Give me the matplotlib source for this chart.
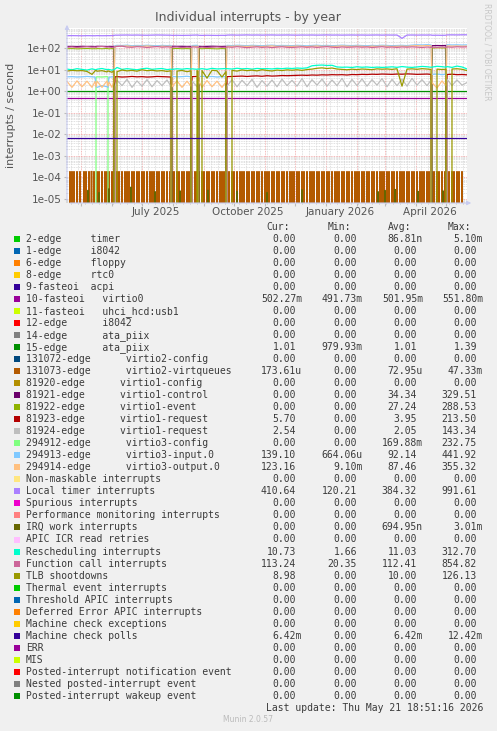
import datetime as dt
import matplotlib
matplotlib.use('Agg')
import matplotlib.pyplot as plt
import matplotlib.dates as mdates
from matplotlib.patches import Rectangle
from matplotlib.ticker import LogLocator, NullFormatter, FuncFormatter

W, H = 497, 731
start = dt.datetime(2025, 4, 16, 18, 51, 16)
end = dt.datetime(2026, 5, 21, 18, 51, 16)

# sample days (offset from start)
days = [
    0, 5, 10, 15, 20, 25,
    28, 29, 30, 35, 40, 41,
    42, 45, 47,
    48, 50, 55, 60, 65, 70, 75, 80, 85, 90, 95, 100, 104,
    105, 110, 115, 120, 124,
    125, 130, 131,
    132, 135, 140, 145, 150, 155, 159,
    160, 165, 170, 175, 180, 185, 190, 195, 200, 205, 210, 215, 220,
    225, 230, 235, 240, 245, 250, 255, 260, 265, 270, 275, 280, 285,
    290, 295, 300, 305, 310, 315, 320, 325, 330, 335, 340, 345, 350, 355, 360, 364,
    365, 370, 375, 379,
    380, 385, 390, 395, 400,
]

local_timer = [
    370, 375, 372, 368, 374, 371,
    369, 372, 375, 370, 373, 376,
    372, 378, 380,
    395, 392, 398, 401, 396, 400, 394, 390, 397, 402, 399, 395, 392,
    386, 389, 384, 388, 390,
    395, 400, 398,
    388, 384, 390, 386, 383, 388, 385,
    398, 402, 396, 400, 405, 399, 402, 397, 401, 404, 398, 400, 403,
    399, 395, 401, 398, 402, 396, 400, 404, 399, 401, 397, 400, 402,
    398, 401, 396, 400, 403, 397, 401, 399, 400, 280, 398, 402, 397, 401, 399, 403,
    390, 392, 388, 391,
    405, 408, 404, 410, 410,
]

func_call = [
    108, 112, 106, 110, 115, 109,
    111, 107, 113, 118, 109, 112,
    110, 106, 112,
    114, 118, 122, 110, 108, 115, 112, 106, 111, 117, 109, 113, 110,
    108, 112, 105, 110, 107,
    113, 109, 111,
    106, 110, 104, 108, 112, 107, 109,
    112, 108, 115, 110, 104, 109, 113, 107, 111, 105, 110, 114, 108,
    106, 110, 113, 108, 112, 107, 111, 115, 109, 106, 112, 108, 110,
    113, 109, 112, 106, 110, 115, 108, 111, 107, 112, 109, 113, 110, 106, 111, 108,
    110, 107, 112, 108,
    112, 109, 114, 111, 113,
]

virtio3_input = [
    4.6, 4.7, 4.5, 4.6, 4.8, 4.6,
    4.5, 1.7, 1.5, 1.8, 1.6, 1.5,
    4.4, 4.6, 4.5,
    128, 132, 130, 135, 127, 131, 129, 134, 130, 126, 132, 129, 131,
    4.8, 4.6, 4.7, 4.9, 4.6,
    130, 133, 128,
    4.7, 4.9, 4.6, 4.8, 4.5, 4.7, 4.6,
    132, 129, 134, 131, 128, 133, 130, 127, 132, 135, 129, 131, 130,
    128, 133, 130, 126, 131, 134, 129, 132, 128, 130, 135, 131, 129,
    133, 130, 127, 132, 129, 134, 131, 128, 130, 133, 129, 136, 140, 138, 142, 139,
    6.0, 6.2, 5.8, 6.1,
    141, 138, 140, 137, 139,
]

virtio3_output = [
    2.8, 1.5, 3.0, 1.6, 2.9, 1.5,
    2.8, 1.6, 2.9, 1.5, 3.0, 1.7,
    2.6, 1.5, 2.8,
    118, 122, 120, 125, 117, 121, 119, 124, 120, 116, 122, 119, 121,
    1.6, 3.0, 1.5, 2.9, 1.7,
    121, 118, 123,
    2.8, 1.5, 3.1, 1.6, 2.9, 1.5, 2.7,
    122, 119, 124, 121, 118, 123, 120, 117, 122, 125, 119, 121, 120,
    118, 123, 120, 116, 121, 124, 119, 122, 118, 120, 125, 121, 119,
    123, 120, 117, 122, 119, 124, 121, 118, 120, 123, 119, 126, 128, 125, 130, 127,
    2.5, 1.4, 3.0, 1.8,
    125, 122, 124, 121, 123,
]

virtio3_config = [
    0, 0, 0, 0, 0, 0,
    0, 4.4, 4.6, 4.5, 4.7, 4.5,
    0, 0, 0,
    0, 0, 0, 0, 0, 0, 0, 0, 0, 0, 0, 0, 0,
    0, 0, 0, 0, 0,
    0, 0, 0,
    0, 0, 0, 0, 0, 0, 0,
    0, 0, 0, 0, 0, 0, 0, 0, 0, 0, 0, 0, 0,
    0, 0, 0, 0, 0, 0, 0, 0, 0, 0, 0, 0, 0,
    0, 0, 0, 0, 0, 0, 0, 0, 0, 0, 0, 0, 0, 0, 0, 0,
    0, 0, 0, 0,
    0, 0, 0, 0, 0,
]

virtio1_control = [
    118, 119, 117, 120, 118, 119,
    117, 118, 120, 119, 118, 117,
    119, 118, 120,
    0, 0, 0, 0, 0, 0, 0, 0, 0, 0, 0, 0, 0,
    121, 119, 120, 118, 119,
    0, 0, 0,
    120, 118, 119, 121, 119, 118, 120,
    0, 0, 0, 0, 0, 0, 0, 0, 0, 0, 0, 0, 0,
    0, 0, 0, 0, 0, 0, 0, 0, 0, 0, 0, 0, 0,
    0, 0, 0, 0, 0, 0, 0, 0, 0, 0, 0, 0, 0, 0, 0, 0,
    128, 130, 129, 131,
    0, 0, 0, 0, 0,
]

virtio1_event = [
    92, 94, 91, 93, 95, 92,
    93, 91, 94, 92, 95, 93,
    91, 94, 92,
    0, 0, 0, 0, 0, 0, 0, 0, 0, 0, 0, 0, 0,
    93, 95, 92, 94, 91,
    0, 0, 0,
    94, 92, 95, 93, 91, 94, 92,
    0, 0, 0, 0, 0, 0, 0, 0, 0, 0, 0, 0, 0,
    0, 0, 0, 0, 0, 0, 0, 0, 0, 0, 0, 0, 0,
    0, 0, 0, 0, 0, 0, 0, 0, 0, 0, 0, 0, 0, 0, 0, 0,
    99, 102, 100, 101,
    0, 0, 0, 0, 0,
]

virtio1_request_a = [
    0, 0, 0, 0, 0, 0,
    0, 0, 0, 0, 0, 0,
    0, 0, 0,
    4.6, 4.7, 4.5, 4.6, 4.8, 4.6, 4.7, 4.5, 4.6, 4.8, 4.7, 4.6, 4.5,
    0, 0, 0, 0, 0,
    4.7, 4.8, 4.6,
    0, 0, 0, 0, 0, 0, 0,
    4.7, 4.8, 4.9, 5.0, 4.8, 5.0, 5.1, 4.9, 5.2, 5.0, 5.1, 5.3, 5.2,
    5.3, 5.4, 5.5, 5.4, 5.6, 5.5, 5.7, 5.6, 5.8, 5.7, 5.8, 5.6, 5.9,
    5.8, 6.0, 5.9, 6.1, 6.0, 6.2, 6.1, 6.0, 6.2, 6.1, 6.3, 6.2, 6.0, 6.1, 6.2, 6.0,
    0, 0, 0, 0,
    5.9, 6.1, 5.8, 5.9, 5.7,
]

virtio1_request_b = [
    0, 0, 0, 0, 0, 0,
    0, 0, 0, 0, 0, 0,
    0, 0, 0,
    1.6, 3.2, 1.8, 3.5, 1.5, 3.0, 1.7, 3.4, 1.6, 3.1, 1.8, 3.3, 1.7,
    0, 0, 0, 0, 0,
    3.0, 1.6, 2.8,
    0, 0, 0, 0, 0, 0, 0,
    1.7, 3.4, 1.6, 3.2, 1.8, 3.5, 1.5, 3.1, 1.7, 3.3, 1.6, 3.6, 1.8,
    3.2, 1.7, 3.8, 1.6, 3.4, 1.9, 3.6, 1.7, 3.3, 1.8, 3.9, 1.6, 3.5,
    1.8, 3.7, 1.7, 3.4, 1.9, 3.8, 1.6, 3.5, 1.8, 3.6, 1.7, 3.9, 1.9, 3.4, 1.8, 3.2,
    0, 0, 0, 0,
    3.6, 1.8, 3.3, 1.9, 2.5,
]

rescheduling = [
    10.5, 9.8, 11.0, 10.2, 9.5, 10.8,
    10.0, 9.6, 10.4, 11.2, 9.9, 10.3,
    10.1, 9.4, 10.0,
    10.6, 12.5, 10.2, 11.0, 10.4, 9.8, 10.9, 11.5, 10.3, 10.8, 11.2, 10.0, 10.5,
    10.2, 10.9, 10.4, 11.1, 10.6,
    10.8, 10.3, 10.7,
    10.5, 11.0, 10.2, 11.4, 10.7, 10.9, 11.2,
    11.0, 10.6, 11.5, 10.8, 11.2, 10.5, 11.3, 10.9, 11.1, 10.7, 11.4, 11.0, 11.6,
    11.2, 11.8, 11.4, 12.0, 15.0, 15.8, 16.2, 15.5, 15.8, 13.2, 12.8, 13.0, 12.5,
    13.5, 12.8, 13.2, 12.5, 13.0, 12.6, 12.9, 13.4, 12.7, 13.8, 13.0, 12.6, 13.2, 14.0, 13.5, 12.8,
    13.0, 14.2, 13.6, 12.9,
    13.8, 12.6, 14.5, 13.2, 10.7,
]

tlb = [
    8.5, 9.2, 8.8, 9.0, 8.2, 6.0,
    8.6, 9.1, 8.4, 8.9, 7.8, 8.7,
    8.3, 7.5, 8.8,
    0, 8.0, 9.5, 8.7, 9.2, 8.4, 9.8, 8.9, 9.3, 8.6, 9.0, 8.2, 8.8,
    0, 8.5, 9.1, 8.0, 8.7,
    0, 8.9, 8.4,
    0, 9.0, 4.0, 9.3, 8.8, 4.5, 8.0,
    0, 9.2, 8.5, 9.6, 8.9, 9.4, 8.7, 9.8, 9.1, 8.6, 9.5, 9.0, 9.7,
    9.3, 9.8, 9.2, 10.0, 10.5, 11.5, 12.0, 11.2, 11.8, 10.6, 10.2, 9.8, 10.4,
    10.0, 10.6, 10.3, 9.9, 10.8, 10.4, 10.7, 10.2, 10.9, 1.7, 10.5, 10.8, 10.3, 11.0, 10.6, 10.2,
    0, 10.5, 10.1, 10.4,
    0, 10.6, 10.9, 10.3, 9.0,
]

# flat series
flat_days = [0, 400]
ata_piix_15 = [1.01, 1.01]
virtio0 = [0.50, 0.50]
mce_polls = [6.42e-3, 6.42e-3]

# virtio2-virtqueues: one char per day, 1 = spike
virtio2_pattern = (
    "00010 10100 10010 00101 00101 10100 10100 10010 10100 10100 10100 10010 10100 10100 10100 10100 "
    "10010 10100 10100 10100 10010 10100 10100 10100 10100 10010 10100 10100 10100 10100 10010 10100 "
    "10100 10100 10010 10100 10100 10100 10100 10010 10100 10100 10100 10100 10010 10100 10100 10100 "
    "10010 10100 10100 10100 10100 10010 10100 10100 10100 10010 10100 10100 10100 10100 10010 10100 "
    "10100 10100 10010 10100 10100 10100 10010 10100 10100 10100 10100 10010 10100 10100 10100 10000"
).replace(" ", "")
virtio2_high = 1.9e-4

irq_days = [21, 32, 42, 64, 88, 113, 141, 170, 200, 235, 311, 318, 328, 351, 376]
irq_vals = [2.5e-5, 2.0e-5, 3.0e-5, 3.6e-5, 2.2e-5, 2.4e-5, 2.6e-5, 2.3e-5,
            2.0e-5, 2.7e-5, 2.2e-5, 2.5e-5, 2.8e-5, 2.3e-5, 2.4e-5]

legend_labels = [
    "2-edge     timer", "1-edge     i8042", "6-edge     floppy", "8-edge     rtc0",
    "9-fasteoi  acpi", "10-fasteoi   virtio0", "11-fasteoi   uhci_hcd:usb1",
    "12-edge      i8042", "14-edge      ata_piix", "15-edge      ata_piix",
    "131072-edge      virtio2-config", "131073-edge      virtio2-virtqueues",
    "81920-edge      virtio1-config", "81921-edge      virtio1-control",
    "81922-edge      virtio1-event", "81923-edge      virtio1-request",
    "81924-edge      virtio1-request", "294912-edge      virtio3-config",
    "294913-edge      virtio3-input.0", "294914-edge      virtio3-output.0",
    "Non-maskable interrupts", "Local timer interrupts", "Spurious interrupts",
    "Performance monitoring interrupts", "IRQ work interrupts", "APIC ICR read retries",
    "Rescheduling interrupts", "Function call interrupts", "TLB shootdowns",
    "Thermal event interrupts", "Threshold APIC interrupts",
    "Deferred Error APIC interrupts", "Machine check exceptions", "Machine check polls",
    "ERR", "MIS", "Posted-interrupt notification event",
    "Nested posted-interrupt event", "Posted-interrupt wakeup event",
]
legend_colors = [
    "#00CC00", "#0066B3", "#FF8000", "#FFCC00", "#330099", "#990099", "#CCFF00",
    "#FF0000", "#808080", "#008F00", "#00487D", "#B35A00", "#B38F00", "#6B006B",
    "#8FB300", "#B30000", "#BEBEBE", "#80FF80", "#80C9FF", "#FFC080", "#FFE680",
    "#AA80FF", "#EE00CC", "#FF8080", "#666600", "#FFBFFF", "#00FFCC", "#CC6699",
    "#999900", "#00CC00", "#0066B3", "#FF8000", "#FFCC00", "#330099", "#990099",
    "#CCFF00", "#FF0000", "#808080", "#008F00",
]
Z = ["0.00", "0.00", "0.00", "0.00"]
legend_values = [
    ["0.00", "0.00", "86.81n", "5.10m"], Z, Z, Z, Z,
    ["502.27m", "491.73m", "501.95m", "551.80m"], Z, Z, Z,
    ["1.01", "979.93m", "1.01", "1.39"], Z,
    ["173.61u", "0.00", "72.95u", "47.33m"], Z,
    ["0.00", "0.00", "34.34", "329.51"],
    ["0.00", "0.00", "27.24", "288.53"],
    ["5.70", "0.00", "3.95", "213.50"],
    ["2.54", "0.00", "2.05", "143.34"],
    ["0.00", "0.00", "169.88m", "232.75"],
    ["139.10", "664.06u", "92.14", "441.92"],
    ["123.16", "9.10m", "87.46", "355.32"], Z,
    ["410.64", "120.21", "384.32", "991.61"], Z, Z,
    ["0.00", "0.00", "694.95n", "3.01m"], Z,
    ["10.73", "1.66", "11.03", "312.70"],
    ["113.24", "20.35", "112.41", "854.82"],
    ["8.98", "0.00", "10.00", "126.13"], Z, Z, Z, Z,
    ["6.42m", "0.00", "6.42m", "12.42m"], Z, Z, Z, Z, Z,
]
headers = ["Cur:", "Min:", "Avg:", "Max:"]
month_labels = ["July 2025", "October 2025", "January 2026", "April 2026"]
month_label_dates = [dt.datetime(2025, 7, 15), dt.datetime(2025, 10, 15),
                     dt.datetime(2026, 1, 15), dt.datetime(2026, 4, 15)]


def when(ds):
    return [start + dt.timedelta(days=d) for d in ds]


fig = plt.figure(figsize=(W / 100, H / 100), dpi=100, facecolor='#F0F0F0')
ax = fig.add_axes([67 / W, 1 - 203 / H, 400 / W, 175 / H])
ax.set_facecolor('white')
ax.set_yscale('log', nonpositive='clip')
ax.set_ylim(10 ** -5.185, 10 ** 2.927)
ax.set_xlim(start, end)

t = when(days)
tf = when(flat_days)
comb_t = when(range(len(virtio2_pattern)))
comb_v = [virtio2_high if c == '1' else 0 for c in virtio2_pattern]
irq_t, irq_y = [], []
for d, v in zip(irq_days, irq_vals):
    irq_t += when([d - 1, d, d + 1])
    irq_y += [0, v, 0]

# drawn in legend order, like rrdtool
series = [
    (tf, virtio0, "#990099", 0.9),
    (tf, ata_piix_15, "#008F00", 0.9),
    (comb_t, comb_v, "#B35A00", 0.8),
    (t, virtio1_control, "#6B006B", 0.9),
    (t, virtio1_event, "#8FB300", 0.7),
    (t, virtio1_request_a, "#B30000", 0.9),
    (t, virtio1_request_b, "#BEBEBE", 0.9),
    (t, virtio3_config, "#80FF80", 0.9),
    (t, virtio3_input, "#80C9FF", 0.9),
    (t, virtio3_output, "#FFC080", 0.9),
    (t, local_timer, "#AA80FF", 0.9),
    (irq_t, irq_y, "#666600", 0.9),
    (t, rescheduling, "#00FFCC", 0.9),
    (t, func_call, "#CC6699", 0.9),
    (t, tlb, "#999900", 0.9),
    (tf, mce_polls, "#330099", 0.9),
]
for xs, ys, c, lw in series:
    ax.plot(xs, ys, color=c, lw=lw)

ax.yaxis.set_major_locator(LogLocator(base=10, numticks=20))
ax.yaxis.set_minor_locator(LogLocator(base=10, subs=range(2, 10), numticks=20))
ax.yaxis.set_major_formatter(FuncFormatter(lambda v, p: '%.0e' % v))
ax.yaxis.set_minor_formatter(NullFormatter())
ax.xaxis.set_major_locator(mdates.MonthLocator())
ax.xaxis.set_minor_locator(mdates.WeekdayLocator(byweekday=mdates.MO))
ax.xaxis.set_major_formatter(NullFormatter())
ax.grid(which='major', color='#F2A0A0', ls=(0, (1, 1)), lw=0.6)
ax.grid(which='minor', color='#D6D6D6', ls=(0, (1, 1)), lw=0.6)
ax.set_axisbelow(True)
ax.tick_params(which='both', length=2, color='#BBBBBB', labelsize=7.5,
               labelcolor='#555555', pad=2)
ax.tick_params(which='minor', length=1)
for s in ax.spines.values():
    s.set_visible(False)

arrow = dict(arrowstyle='-|>', color='#C8CCF0', lw=0.8, mutation_scale=6)
ax.annotate('', xy=(0, 1.034), xytext=(0, 0), xycoords='axes fraction',
            arrowprops=arrow, annotation_clip=False)
ax.annotate('', xy=(1.0175, 0), xytext=(0, 0), xycoords='axes fraction',
            arrowprops=arrow, annotation_clip=False)

for lab, d in zip(month_labels, month_label_dates):
    ax.text(d, -0.05, lab, transform=ax.get_xaxis_transform(), ha='center', va='center',
            fontsize=7.5, color='#555555')

fig.text(248 / W, 1 - 17 / H, "Individual interrupts - by year", ha='center', va='center',
         fontsize=9, color='#555555')
fig.text(11 / W, 1 - 115 / H, "interrupts / second", rotation=90, ha='center',
         va='center', fontsize=8, color='#555555')
fig.text(487 / W, 1 - 52 / H, "RRDTOOL / TOBI OETIKER", rotation=270, ha='center',
         va='center', fontsize=5.5, color='#C8C8C8')

mono = dict(family='DejaVu Sans Mono', fontsize=7.0, color='#3A3A3A', va='center')
col_right = [302, 363, 423, 483]
for xr, h in zip(col_right, headers):
    fig.text((xr - 12) / W, 1 - 227 / H, h, ha='right', **mono)
for i, (lab, col, vals) in enumerate(zip(legend_labels, legend_colors, legend_values)):
    y = 239 + i * 12.02
    fig.add_artist(Rectangle((14 / W, 1 - (y + 3) / H), 6 / W, 6 / H,
                             transform=fig.transFigure, facecolor=col, edgecolor='none'))
    fig.text(26 / W, 1 - y / H, lab, ha='left', **mono)
    for xr, v in zip(col_right, vals):
        shift = 0 if v[-1].isalpha() else 6
        fig.text((xr - shift) / W, 1 - y / H, v, ha='right', **mono)

fig.text(483 / W, 1 - 708 / H, "Last update: Thu May 21 18:51:16 2026", ha='right', **mono)
fig.text(248 / W, 1 - 720 / H, "Munin 2.0.57", ha='center', va='center',
         fontsize=5.5, color='#BBBBBB')

fig.savefig('out.png', dpi=100, facecolor=fig.get_facecolor())
